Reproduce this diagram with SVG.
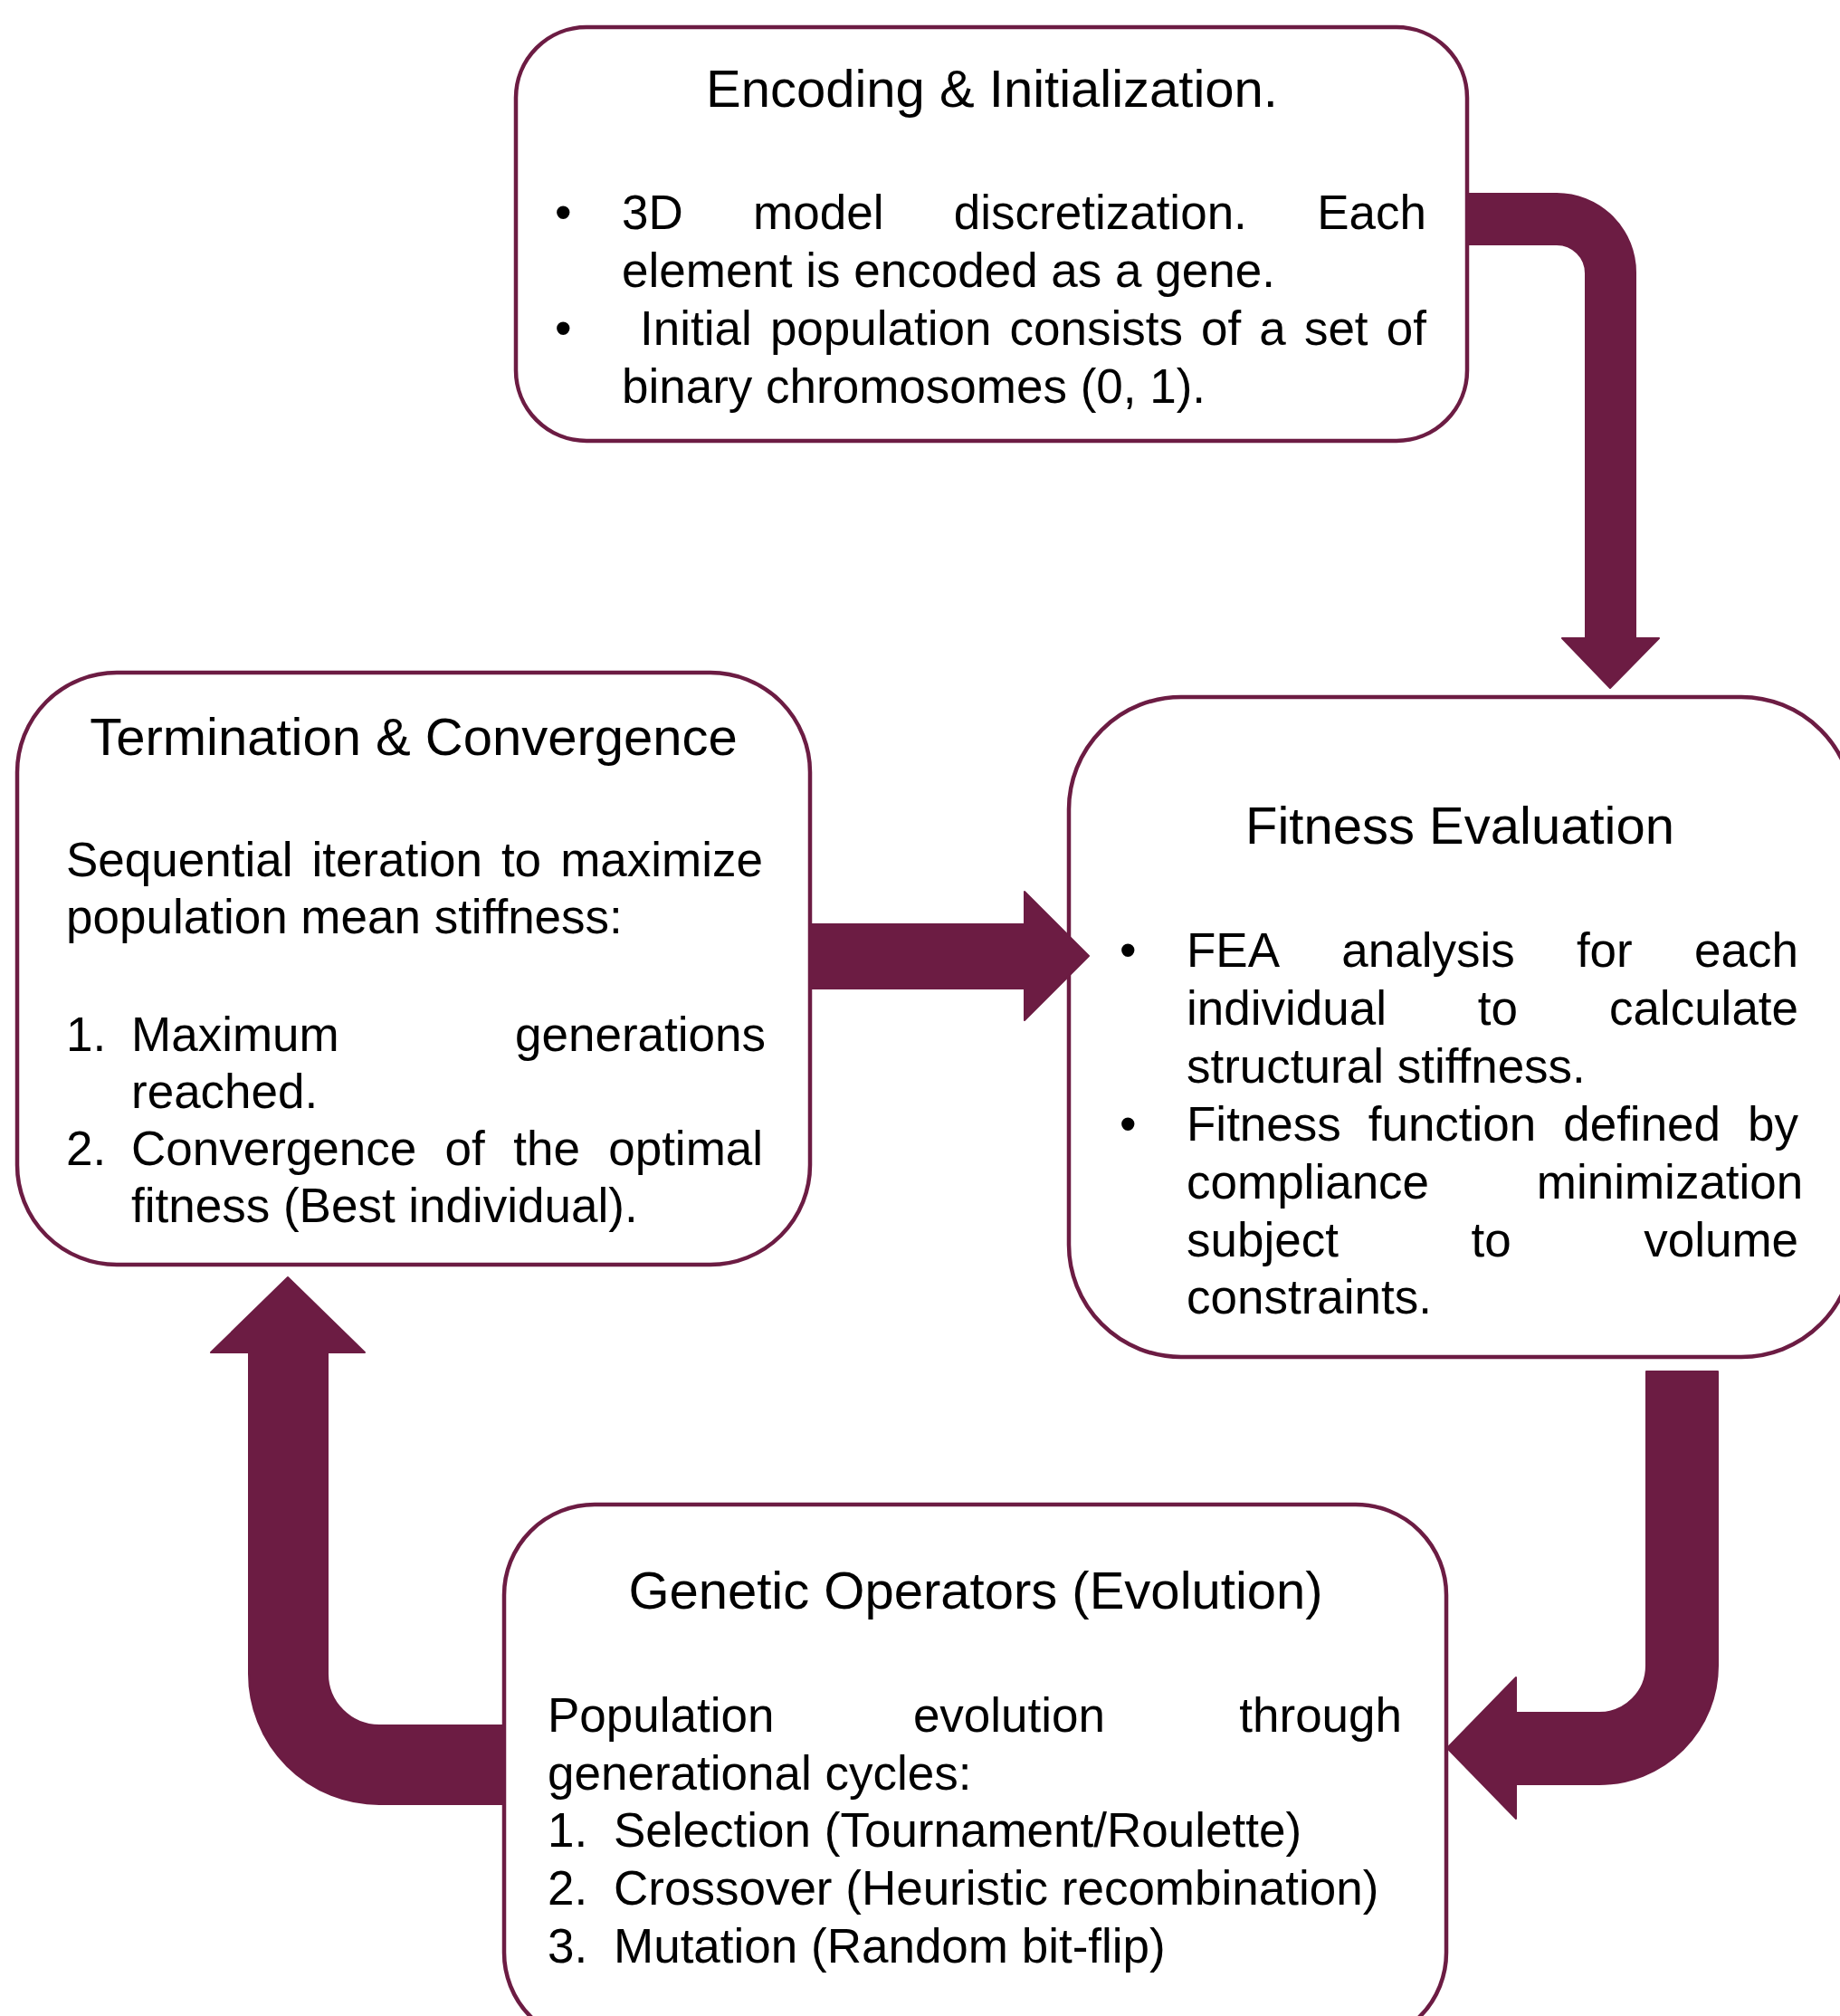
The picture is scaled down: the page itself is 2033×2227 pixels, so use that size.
<svg xmlns="http://www.w3.org/2000/svg" width="2033" height="2227" viewBox="0 0 2033 2227">
<style>
.box{fill:#ffffff;stroke:#6C1C43;stroke-width:4.5}
.arrow{fill:#6C1C43;stroke:#6C1C43;stroke-width:2;stroke-linejoin:round}
.title{font-family:"Liberation Sans",Arial,sans-serif;font-size:58px;text-anchor:middle;fill:#000}
.body{font-family:"Liberation Sans",Arial,sans-serif;font-size:53px;fill:#000}
</style>
<rect width="2033" height="2227" fill="#ffffff"/>

<g id="encoding">
<rect class="box" x="570" y="30" width="1051" height="457" rx="78" ry="78"/>
<text class="title" x="1096" y="118">Encoding &amp; Initialization.</text>
<text class="body" x="613" y="253">•</text>
<text class="body" y="253"><tspan x="687">3D</tspan><tspan x="832.1">model</tspan><tspan x="1053.8">discretization.</tspan><tspan x="1455.2">Each</tspan></text>
<text class="body" x="687" y="317">element is encoded as a gene.</text>
<text class="body" x="613" y="381">•</text>
<text class="body" y="381"><tspan x="707.1">Initial</tspan><tspan x="850.9">population</tspan><tspan x="1115.5">consists</tspan><tspan x="1327">of</tspan><tspan x="1391.3">a</tspan><tspan x="1440.9">set</tspan><tspan x="1531.7">of</tspan></text>
<text class="body" x="687" y="445">binary chromosomes (0, 1).</text>
</g>

<g id="termination">
<rect class="box" x="19" y="743" width="876" height="654" rx="110" ry="110"/>
<text class="title" x="457" y="834">Termination &amp; Convergence</text>
<text class="body" y="968"><tspan x="73">Sequential</tspan><tspan x="344.4">iteration</tspan><tspan x="553.9">to</tspan><tspan x="619.2">maximize</tspan></text>
<text class="body" x="73" y="1031">population mean stiffness:</text>
<text class="body" y="1161"><tspan x="73">1.</tspan><tspan x="145">Maximum</tspan><tspan x="569">generations</tspan></text>
<text class="body" x="145" y="1224">reached.</text>
<text class="body" y="1287"><tspan x="73">2.</tspan><tspan x="145">Convergence</tspan><tspan x="491.6">of</tspan><tspan x="567.2">the</tspan><tspan x="672.2">optimal</tspan></text>
<text class="body" x="145" y="1350">fitness (Best individual).</text>
</g>

<g id="fitness">
<rect class="box" x="1181" y="770" width="867" height="729" rx="124" ry="124"/>
<text class="title" x="1613" y="932">Fitness Evaluation</text>
<text class="body" x="1237" y="1068">•</text>
<text class="body" y="1068"><tspan x="1311">FEA</tspan><tspan x="1482.3">analysis</tspan><tspan x="1741.9">for</tspan><tspan x="1872.1">each</tspan></text>
<text class="body" y="1132"><tspan x="1311">individual</tspan><tspan x="1632.8">to</tspan><tspan x="1777.9">calculate</tspan></text>
<text class="body" x="1311" y="1196">structural stiffness.</text>
<text class="body" x="1237" y="1260">•</text>
<text class="body" y="1260"><tspan x="1311">Fitness</tspan><tspan x="1511.7">function</tspan><tspan x="1727.2">defined</tspan><tspan x="1931">by</tspan></text>
<text class="body" y="1324"><tspan x="1311">compliance</tspan><tspan x="1697.8">minimization</tspan></text>
<text class="body" y="1388"><tspan x="1311">subject</tspan><tspan x="1625.5">to</tspan><tspan x="1816.2">volume</tspan></text>
<text class="body" x="1311" y="1451">constraints.</text>
</g>

<g id="genetic">
<rect class="box" x="557" y="1662" width="1041" height="595" rx="100" ry="100"/>
<text class="title" x="1078" y="1777">Genetic Operators (Evolution)</text>
<text class="body" y="1913"><tspan x="605">Population</tspan><tspan x="1008.9">evolution</tspan><tspan x="1369.3">through</tspan></text>
<text class="body" x="605" y="1977">generational cycles:</text>
<text class="body" y="2040"><tspan x="605">1.</tspan><tspan x="678">Selection (Tournament/Roulette)</tspan></text>
<text class="body" y="2104"><tspan x="605">2.</tspan><tspan x="678">Crossover (Heuristic recombination)</tspan></text>
<text class="body" y="2168"><tspan x="605">3.</tspan><tspan x="678">Mutation (Random bit-flip)</tspan></text>
</g>

<g id="connectors">
<path class="arrow" d="M1622,214 H1720 A87,87 0 0 1 1807,301 V705 H1833 L1779,760 L1726,705 H1752 V302 A32,32 0 0 0 1720,270 H1622 Z"/>
<path class="arrow" d="M895,1021 H1132 V985 L1203,1056 L1132,1127 V1092 H895 Z"/>
<path class="arrow" d="M1819,1515 H1898 V1840 A131,131 0 0 1 1767,1971 H1675 V2009 L1599,1931 L1675,1853 V1892 H1767 A52,52 0 0 0 1819,1840 Z"/>
<path class="arrow" d="M557,1906 H419 A57,57 0 0 1 362,1849 V1494 H403 L318,1411 L233,1494 H275 V1849 A144,144 0 0 0 419,1993 H557 Z"/>
</g>
</svg>
